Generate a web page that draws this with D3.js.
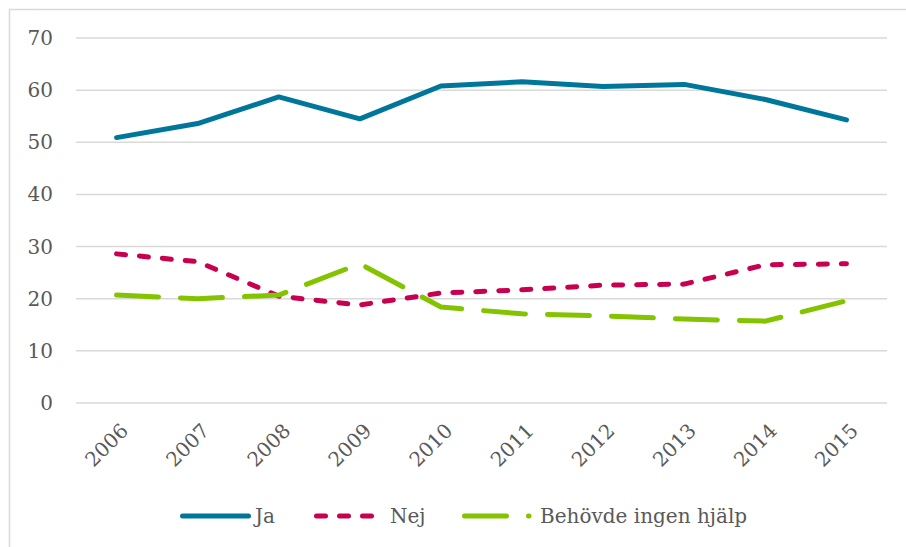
<!DOCTYPE html>
<html lang="sv">
<head>
  <meta charset="UTF-8" />
  <title>Ja / Nej / Behövde ingen hjälp</title>
  <script src="https://d3js.org/d3.v7.min.js"></script>
  <style>
    html, body { margin: 0; padding: 0; background: #fff; }
    body { width: 906px; height: 547px; overflow: hidden; }
    text { font-family: "DejaVu Serif", Georgia, serif; fill: #595959; }
    .grid line { stroke: #d9d9d9; stroke-width: 1.5px; }
    .series { fill: none; stroke-width: 5px; stroke-linecap: round; stroke-linejoin: round; }
  </style>
</head>
<body>
  <svg id="chart" width="906" height="547"></svg>

  <script>
    // data
    const years = ['2006','2007','2008','2009','2010','2011','2012','2013','2014','2015'];
    const ja    = [50.9, 53.6, 58.7, 54.5, 60.8, 61.6, 60.7, 61.1, 58.2, 54.3];
    const nej   = [28.6, 27.1, 20.5, 18.8, 21.1, 21.7, 22.6, 22.8, 26.5, 26.7];
    const ingen = [20.7, 20.0, 20.7, 26.7, 18.4, 17.1, 16.7, 16.1, 15.7, 19.6];
    const yTicks = [0, 10, 20, 30, 40, 50, 60, 70];

    const series = [
      { name: 'Ja',                  values: ja,    color: '#00779a', dash: null },
      { name: 'Nej',                 values: nej,   color: '#c8004f', dash: '9 14' },
      { name: 'Behövde ingen hjälp', values: ingen, color: '#84c300', dash: '42 22' }
    ];

    const svg = d3.select('#chart');
    const plot = { left: 76, right: 887, top: 38, bottom: 403 };

    // outer chart frame (cut off on the right and bottom)
    svg.append('path')
      .attr('d', 'M9.5,547 V9.5 H906')
      .attr('fill', 'none').attr('stroke', '#d9d9d9').attr('stroke-width', 1.5);

    const x = d3.scaleBand().domain(years).range([plot.left, plot.right]);
    const y = d3.scaleLinear().domain([0, 70]).range([plot.bottom, plot.top]);

    // gridlines
    svg.append('g').attr('class', 'grid')
      .selectAll('line').data(yTicks).join('line')
      .attr('x1', plot.left).attr('x2', plot.right)
      .attr('y1', d => y(d)).attr('y2', d => y(d));

    // y axis labels
    svg.append('g')
      .selectAll('text').data(yTicks).join('text')
      .attr('x', 53).attr('y', d => y(d)).attr('dy', '0.35em')
      .attr('text-anchor', 'end').attr('font-size', 20)
      .text(d => d);

    // x axis labels, rotated
    svg.append('g')
      .selectAll('text').data(years).join('text')
      .attr('transform', d => `translate(${x(d) + x.bandwidth() / 2 + 3},${422}) rotate(-45)`)
      .attr('text-anchor', 'end').attr('dy', '0.7em').attr('font-size', 20)
      .text(d => d);

    // lines
    const line = d3.line()
      .x((d, i) => x(years[i]) + x.bandwidth() / 2)
      .y(d => y(d));

    svg.append('g').selectAll('path').data(series).join('path')
      .attr('class', 'series')
      .attr('stroke', d => d.color)
      .attr('stroke-dasharray', d => d.dash)
      .attr('d', d => line(d.values));

    // legend
    const legendItems = [
      { s: series[0], x1: 182.5, x2: 248.5, tx: 255 },
      { s: series[1], x1: 316.5, x2: 378,   tx: 390 },
      { s: series[2], x1: 464.5, x2: 529,   tx: 540 }
    ];
    const legendY = 516;
    const lg = svg.append('g');
    legendItems.forEach(it => {
      lg.append('line')
        .attr('class', 'series')
        .attr('x1', it.x1).attr('x2', it.x2)
        .attr('y1', legendY).attr('y2', legendY)
        .attr('stroke', it.s.color)
        .attr('stroke-dasharray', it.s.dash);
      lg.append('text')
        .attr('x', it.tx).attr('y', legendY).attr('dy', '0.35em')
        .attr('font-size', 20)
        .text(it.s.name);
    });
  </script>
</body>
</html>
